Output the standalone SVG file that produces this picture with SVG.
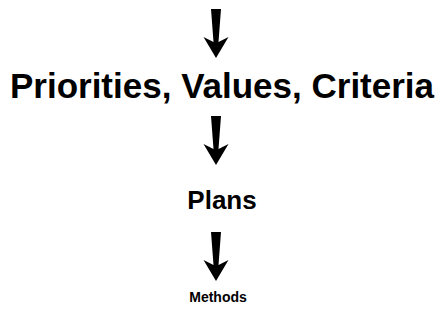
<svg xmlns="http://www.w3.org/2000/svg" width="442" height="328" viewBox="0 0 442 328">
  <defs>
    <style>
      .t { font-family: "Liberation Sans", Arial, Helvetica, sans-serif; font-weight: bold; fill: #000; text-anchor: middle; }
      .arrow { fill: #000; stroke: none; }
    </style>
    <polygon id="arr" points="-5,0 5,0 2.5,33 12.5,28 0,49 -12.5,28 -2.5,33"/>
  </defs>
  <g id="connectors">
    <use href="#arr" class="arrow" transform="translate(216,9)"/>
    <use href="#arr" class="arrow" transform="translate(216,116)"/>
    <use href="#arr" class="arrow" transform="translate(216,232)"/>
  </g>
  <g id="node-priorities">
    <text class="t" x="222" y="98" font-size="35">Priorities, Values, Criteria</text>
  </g>
  <g id="node-plans">
    <text class="t" x="222" y="209" font-size="26">Plans</text>
  </g>
  <g id="node-methods">
    <text class="t" x="218" y="302" font-size="14">Methods</text>
  </g>
</svg>
